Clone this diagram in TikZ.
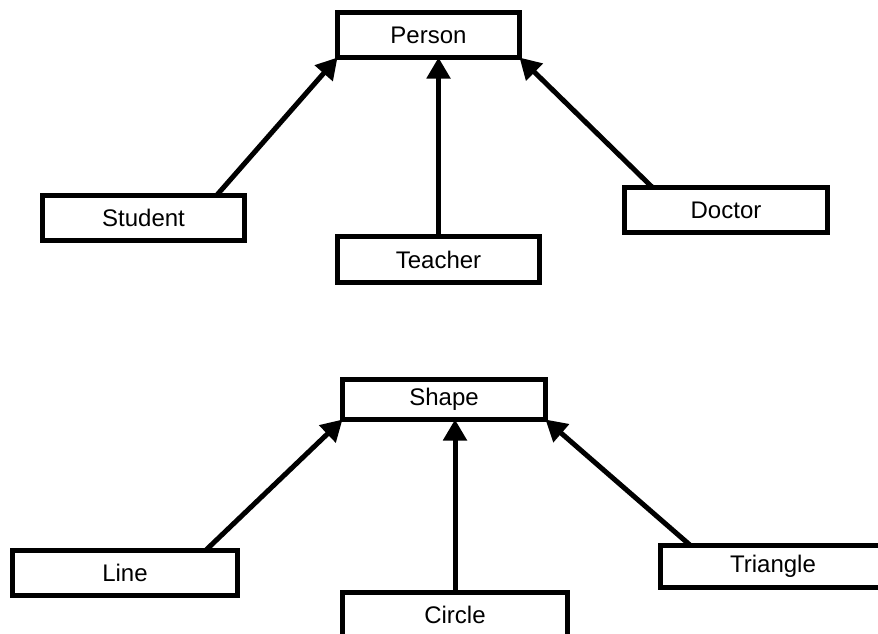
\documentclass[tikz,border=0pt]{standalone}
\usepackage{fontspec}
\setmainfont{Liberation Sans}
\usetikzlibrary{arrows.meta}
\begin{document}
\begin{tikzpicture}[x=1pt,y=-1pt,
  cls/.style={draw=black, line width=5pt, fill=white, inner sep=0pt, outer sep=0pt,
    font=\fontsize{24}{28}\selectfont, text=black},
  inh/.style={line width=5pt, -{Triangle[length=21pt,width=23pt]}}]
\useasboundingbox (0,0) rectangle (878,633);
\clip (0,0) rectangle (878,633);
\fill[white] (0,0) rectangle (878,633);
% top group
\node[cls, minimum width=182pt, minimum height=45pt] (person) at (428.5,35) {Person};
\node[cls, minimum width=202pt, minimum height=45pt] (student) at (143.5,218) {Student};
\node[cls, minimum width=202pt, minimum height=46pt] (teacher) at (438.5,259.5) {Teacher};
\node[cls, minimum width=203pt, minimum height=45pt] (doctor) at (726,210) {Doctor};
\draw[inh] ([xshift=-28pt]student.north east) -- (person.south west);
\draw[inh] (teacher.north) -- (teacher.north |- person.south);
\draw[inh] ([xshift=28pt]doctor.north west) -- (person.south east);
% bottom group
\node[cls, minimum width=203pt, minimum height=40pt] (shape) at (444,399.5) {Shape};
\node[cls, minimum width=225pt, minimum height=45pt] (line) at (125,573) {Line};
\node[cls, minimum width=225pt, minimum height=45pt] (circle) at (455,615) {Circle};
\node[cls, minimum width=225pt, minimum height=42pt] (triangle) at (773,566.5) {Triangle};
\draw[inh] ([xshift=-32pt]line.north east) -- (shape.south west);
\draw[inh] (circle.north) -- (circle.north |- shape.south);
\draw[inh] ([xshift=30pt]triangle.north west) -- (shape.south east);
\end{tikzpicture}
\end{document}
